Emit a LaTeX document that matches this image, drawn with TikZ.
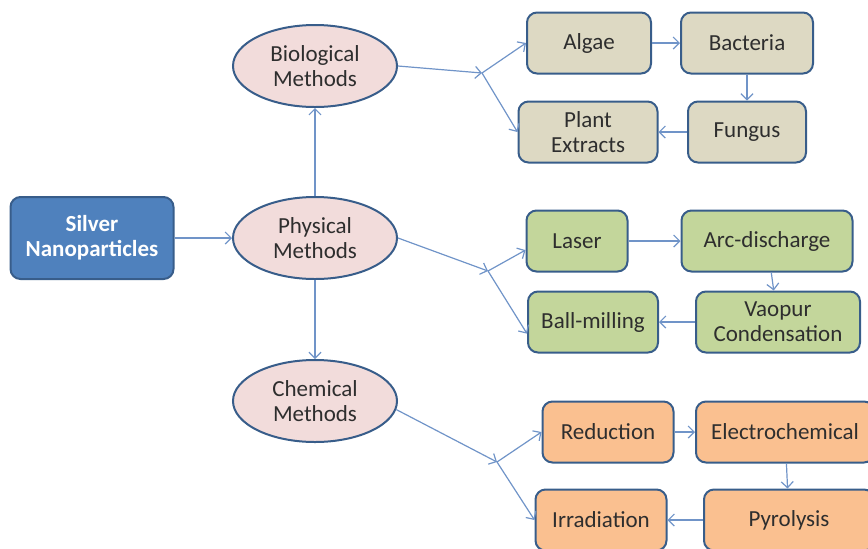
\documentclass[tikz,border=0pt]{standalone}
\usepackage{fontspec}
\setmainfont{Carlito}
\usetikzlibrary{shapes.geometric, arrows.meta}
\definecolor{silverblue}{HTML}{4F81BD}
\definecolor{silverline}{HTML}{385D8A}
\definecolor{methodpink}{HTML}{F2DCDB}
\definecolor{biotan}{HTML}{DDD9C3}
\definecolor{physgreen}{HTML}{C3D69B}
\definecolor{chempeach}{HTML}{FAC090}
\definecolor{linkblue}{HTML}{7094C8}
\definecolor{textgray}{HTML}{2E2E2E}

\begin{document}
\begin{tikzpicture}[x=0.5pt, y=-0.5pt,
		silver/.style={draw=silverline, line width=1pt, rectangle, rounded corners=5pt, fill=silverblue, text=white, align=center, minimum width=81.5pt, minimum height=41pt, inner sep=1pt, font=\fontsize{11.5pt}{12.5pt}\selectfont\bfseries},
		method/.style={draw=silverline, line width=1pt, ellipse, fill=methodpink, text=textgray, align=center, minimum width=82pt, minimum height=41pt, inner sep=0pt, font=\fontsize{11.5pt}{12.5pt}\selectfont},
		box/.style={draw=silverline, line width=1pt, rectangle, rounded corners=5pt, text=textgray, align=center, minimum height=30.5pt, inner sep=1pt, font=\fontsize{11.5pt}{12.5pt}\selectfont},
		link/.style={->, >={Straight Barb[length=3pt, width=6pt]}, draw=linkblue, line width=0.6pt}]
				\useasboundingbox (0, 0) rectangle (868, 548);
				\clip (0, 0) rectangle (868, 548);
				\node[silver] (S)at(92, 238) {Silver\\Nanoparticles};
				\node[method] (BM)at(315, 66) {Biological\\Methods};
				\node[method] (PM)at(315, 238) {Physical\\Methods};
				\node[method] (CM)at(315, 401) {Chemical\\Methods};
				\node[box, fill=biotan, minimum width=62pt] (Al)at(589, 43) {Algae};
				\node[box, fill=biotan, minimum width=66pt] (Ba)at(747, 43) {Bacteria};
				\node[box, fill=biotan, minimum width=69.5pt] (PE)at(588, 132) {Plant\\Extracts};
				\node[box, fill=biotan, minimum width=59pt] (Fu)at(747, 132) {Fungus};
				\node[box, fill=physgreen, minimum width=50.5pt] (La)at(577, 241) {Laser};
				\node[box, fill=physgreen, minimum width=85.5pt] (Arc)at(767, 241) {Arc-discharge};
				\node[box, fill=physgreen, minimum width=65pt] (BaM)at(593, 322) {Ball-milling};
				\node[box, fill=physgreen, minimum width=82pt] (Vc)at(778, 322) {Vaopur\\Condensation};
				\node[box, fill=chempeach, minimum width=65.5pt] (Re)at(608, 432) {Reduction};
				\node[box, fill=chempeach, minimum width=89pt] (El)at(785, 432) {Electrochemical};
				\node[box, fill=chempeach, minimum width=65.5pt] (Ir)at(601, 520) {Irradiation};
				\node[box, fill=chempeach, minimum width=85pt] (Py)at(789, 520) {Pyrolysis};
				\coordinate (bj) at (482, 73);
				\coordinate (pj) at (488, 271);
				\coordinate (cj) at (497, 462);
				\draw[link] (S) -- (PM);
				\draw[link] (PM) -- (BM);
				\draw[link] (PM) -- (CM);
				\draw[link] (BM.east) -- (bj);
				\draw[link] (bj) -- (Al.west);
				\draw[link] (bj) -- (PE.west);
				\draw[link] (Al) -- (Ba);
				\draw[link] (Ba) -- (Fu);
				\draw[link] (Fu) -- (PE);
				\draw[link] (PM.east) -- (pj);
				\draw[link] (pj) -- (La.190);
				\draw[link] (pj) -- (BaM.190);
				\draw[link] (La) -- (Arc);
				\draw[link] (Arc) -- (Vc);
				\draw[link] (Vc) -- (BaM);
				\draw[link] (CM.354) -- (cj);
				\draw[link] (cj) -- (Re.west);
				\draw[link] (cj) -- (Ir.west);
				\draw[link] (Re) -- (El);
				\draw[link] (El) -- (Py);
				\draw[link] (Py) -- (Ir);
			\end{tikzpicture}
\end{document}
